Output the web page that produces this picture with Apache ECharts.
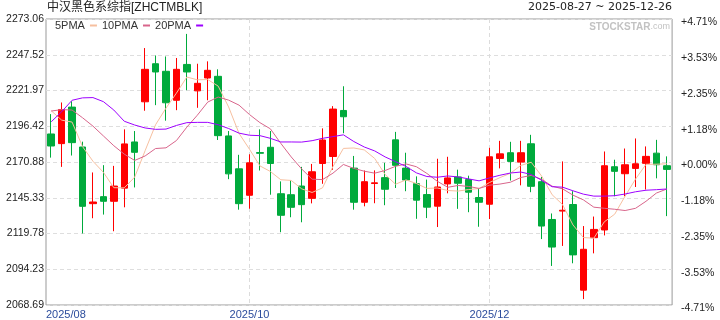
<!DOCTYPE html>
<html><head><meta charset="utf-8">
<script src="https://cdn.jsdelivr.net/npm/echarts@6/dist/echarts.min.js"></script>
<style>html,body{margin:0;padding:0;background:#fff}#c{width:720px;height:320px}</style>
</head><body><div id="c"></div>
<script>
const titleText = '中汉黑色系综指[ZHCTMBLK]';
const dateRange = '2025-08-27 ~ 2025-12-26';
const seriesNames = ['5PMA', '10PMA', '20PMA'];

const openV = [2190.9,2184.0,2210.1,2181.6,2141.1,2146.1,2142.8,2152.2,2185.2,2213.9,2241.1,2235.7,2215.0,2240.6,2221.7,2230.9,2232.1,2189.5,2166.0,2147.1,2177.6,2181.4,2148.2,2147.5,2153.7,2144.9,2169.8,2174.8,2207.7,2166.5,2142.1,2155.5,2159.7,2186.7,2166.5,2155.4,2147.6,2139.3,2155.2,2160.2,2158.3,2145.5,2140.7,2173.4,2177.5,2170.8,2183.9,2156.8,2129.8,2135.8,2140.5,2079.3,2116.8,2122.3,2167.5,2162.5,2166.3,2169.9,2177.2,2168.2];
const closeV = [2182.3,2208.4,2184.7,2139.2,2142.3,2142.8,2153.7,2183.8,2177.8,2237.1,2235.2,2213.2,2237.1,2235.2,2227.1,2236.4,2189.7,2162.4,2141.1,2170.3,2177.1,2169.8,2132.8,2138.5,2140.4,2163.9,2186.6,2208.7,2203.2,2142.1,2156.8,2156.0,2151.4,2168.5,2158.0,2143.6,2138.6,2153.0,2159.5,2155.7,2149.3,2142.1,2174.6,2176.7,2171.3,2177.5,2153.5,2125.1,2110.1,2136.4,2104.5,2108.5,2122.7,2168.2,2164.2,2168.9,2169.6,2174.9,2168.9,2165.6];
const lowV = [2174.0,2167.4,2175.5,2119.8,2130.7,2133.3,2121.4,2138.5,2152.7,2207.5,2211.5,2200.4,2207.9,2222.2,2209.6,2215.0,2186.6,2158.6,2136.8,2137.5,2164.8,2147.5,2120.7,2131.4,2127.8,2141.3,2155.3,2165.3,2191.4,2136.8,2139.2,2141.4,2140.0,2152.3,2150.0,2130.3,2130.8,2124.4,2148.5,2137.4,2135.0,2124.6,2130.1,2166.3,2157.6,2154.2,2149.3,2115.8,2096.6,2110.9,2098.5,2072.9,2105.6,2118.4,2146.4,2146.4,2153.0,2151.2,2159.2,2132.2];
const highV = [2205.1,2213.4,2214.3,2185.4,2163.4,2168.6,2168.1,2194.2,2193.0,2252.3,2247.0,2246.3,2245.2,2262.4,2241.1,2242.8,2237.1,2193.0,2176.0,2176.4,2194.2,2193.0,2157.0,2157.9,2167.4,2169.5,2194.9,2210.8,2225.0,2175.2,2164.8,2164.9,2170.3,2192.4,2177.5,2160.6,2158.3,2173.2,2174.6,2165.4,2161.1,2152.3,2181.0,2186.0,2185.3,2186.0,2190.3,2160.2,2134.1,2171.3,2150.0,2125.1,2131.9,2178.4,2172.5,2180.5,2187.7,2182.0,2186.7,2174.9];

const ma5 = [2207.5,2200.8,2199.4,2181.9,2171.4,2163.5,2152.5,2152.4,2160.1,2179.0,2197.5,2209.4,2220.1,2231.6,2229.6,2229.8,2225.1,2210.2,2191.3,2180.0,2168.1,2164.1,2158.2,2157.7,2151.7,2149.1,2152.4,2167.6,2180.6,2180.9,2179.5,2173.4,2161.9,2155.0,2158.1,2155.5,2152.0,2152.3,2150.5,2150.1,2151.2,2151.9,2156.2,2159.7,2162.8,2168.4,2170.7,2160.8,2147.5,2140.5,2125.9,2116.9,2116.4,2128.1,2133.6,2146.5,2158.7,2169.2,2169.3,2169.6];
const ma10 = [2207.3,2208.3,2208.0,2202.5,2196.5,2189.5,2182.5,2176.5,2172.0,2175.2,2180.5,2181.0,2186.2,2195.8,2204.3,2213.7,2217.3,2215.1,2211.5,2204.8,2199.0,2194.6,2184.2,2174.5,2165.9,2158.6,2158.3,2162.9,2169.1,2166.3,2164.3,2162.9,2164.8,2167.8,2169.5,2167.5,2162.7,2157.1,2152.8,2154.1,2153.4,2152.0,2154.3,2155.1,2156.4,2159.8,2161.3,2158.5,2153.6,2151.7,2147.2,2143.8,2138.6,2137.8,2137.1,2136.2,2137.8,2142.8,2148.7,2151.6];
const ma20 = [2199.6,2206.8,2215.0,2216.7,2216.9,2214.0,2208.0,2200.0,2197.3,2195.2,2194.2,2194.4,2197.0,2199.0,2199.2,2199.2,2197.5,2194.8,2191.5,2190.0,2189.7,2187.8,2185.2,2185.2,2185.1,2186.1,2187.8,2189.0,2190.3,2185.5,2181.6,2178.8,2174.5,2171.1,2167.7,2163.1,2160.5,2160.0,2160.9,2160.2,2158.8,2157.4,2159.5,2161.4,2163.0,2163.7,2162.0,2157.8,2153.2,2152.9,2150.3,2147.9,2146.5,2146.5,2146.8,2148.0,2149.6,2150.7,2151.1,2151.6];

const leftTicks = ['2068.69','2094.23','2119.78','2145.33','2170.88','2196.42','2221.97','2247.52','2273.06'];
const rightTicks = ['-4.71%','-3.53%','-2.35%','-1.18%','+0.00%','+1.18%','+2.35%','+3.53%','+4.71%'];
const xTickLabels = ['2025/08','2025/10','2025/12'];
const xTickAt = [-0.5, 19, 42]; // candle index (-0.5 = left edge of the first band)

const N = closeV.length;
const categories = closeV.map((_, i) => String(i + 1));
const kData = closeV.map((c, i) => [openV[i], c, lowV[i], highV[i]]);

// label slots at half-candle resolution
const slotLabel = {};
xTickAt.forEach((a, k) => { slotLabel[Math.round(2 * a + 1)] = xTickLabels[k]; });
const slots = [];
for (let s = 0; s <= 2 * N; s++) {
  const item = { value: 's' + s };
  if (s === 0) item.textStyle = { align: 'left' };
  slots.push(item);
}

const FONT = '"Liberation Sans", Arial, "Noto Sans CJK SC", sans-serif';
const UP = '#ff0000', DOWN = '#00aa3c';
const maColors = ['#f6bf9f', '#d8658b', '#9d00ff'];

const chart = echarts.init(document.getElementById('c'), null, { renderer: 'canvas' });
chart.setOption({
  animation: false,
  textStyle: { fontFamily: FONT },
  title: [
    { text: titleText, left: 47, top: 2, padding: 0,
      textStyle: { fontSize: 12, fontWeight: 'normal', color: '#222', fontFamily: FONT } },
    { text: dateRange, right: 48, top: 2, padding: 0,
      textStyle: { fontSize: 11, fontWeight: 'normal', color: '#222', fontFamily: '"DejaVu Sans", sans-serif' } }
  ],
  legend: {
    data: seriesNames, left: 55, top: 20, padding: 0, itemGap: 5, align: 'right',
    itemWidth: 7, itemHeight: 2, icon: 'rect', selectedMode: false,
    textStyle: { fontSize: 11, color: '#333', padding: [7, 0, 0, 0] }
  },
  graphic: [{
    type: 'text', right: 50, top: 22, silent: true,
    style: {
      text: '{a|STOCKSTAR}{b|.com}', fill: '#c2c2c2',
      rich: { a: { fontSize: 10, fontWeight: 'bold', fill: '#c2c2c2', fontFamily: FONT },
              b: { fontSize: 9, fill: '#c2c2c2', fontFamily: FONT } }
    }
  }],
  grid: { left: 46, right: 46, top: 19, bottom: 14.5, show: true, borderColor: '#999', borderWidth: 1, backgroundColor: 'transparent' },
  xAxis: [
    { type: 'category', data: categories, show: false, boundaryGap: true },
    { type: 'category', data: slots, boundaryGap: false, position: 'bottom',
      axisLine: { show: false }, axisTick: { show: false },
      axisLabel: { interval: (i) => slotLabel[i] !== undefined, formatter: (v, i) => slotLabel[i] || '',
        fontSize: 11, color: '#2b4c9c', margin: 4 },
      splitLine: { show: true, interval: (i) => i > 0 && slotLabel[i] !== undefined,
        lineStyle: { color: '#dcdcdc', type: [4, 3], width: 1 } } }
  ],
  yAxis: [
    { type: 'value', min: Number(leftTicks[0]), max: Number(leftTicks[leftTicks.length - 1]), show: false, scale: true },
    { type: 'value', min: 0, max: leftTicks.length - 1, interval: 1, position: 'left',
      axisLine: { show: false }, axisTick: { show: false },
      axisLabel: { formatter: (v) => leftTicks[v], fontSize: 10.5, color: '#222', margin: 2 },
      splitLine: { show: true, lineStyle: { color: '#dedede', type: [4, 3], width: 1 } } },
    { type: 'value', min: 0, max: rightTicks.length - 1, interval: 1, position: 'right',
      axisLine: { show: false }, axisTick: { show: false },
      axisLabel: { formatter: (v) => '{v|' + rightTicks[v] + '}', margin: 9,
        rich: { v: { fontSize: 10.5, color: '#222', padding: [7, 0, 0, 0] } } },
      splitLine: { show: false } }
  ],
  series: [
    { type: 'candlestick', name: 'K', xAxisIndex: 0, yAxisIndex: 0, data: kData, barWidth: 7,
      itemStyle: { color: UP, color0: DOWN, borderColor: UP, borderColor0: DOWN, borderWidth: 1 },
      emphasis: { disabled: true }, silent: true },
    { type: 'line', name: seriesNames[0], data: ma5, xAxisIndex: 0, yAxisIndex: 0, showSymbol: false, symbol: 'none',
      lineStyle: { width: 1, color: maColors[0] }, itemStyle: { color: maColors[0] }, silent: true, z: 3 },
    { type: 'line', name: seriesNames[1], data: ma10, xAxisIndex: 0, yAxisIndex: 0, showSymbol: false, symbol: 'none',
      lineStyle: { width: 1, color: maColors[1] }, itemStyle: { color: maColors[1] }, silent: true, z: 3 },
    { type: 'line', name: seriesNames[2], data: ma20, xAxisIndex: 0, yAxisIndex: 0, showSymbol: false, symbol: 'none',
      lineStyle: { width: 1, color: maColors[2] }, itemStyle: { color: maColors[2] }, silent: true, z: 3 }
  ]
});
</script></body></html>
